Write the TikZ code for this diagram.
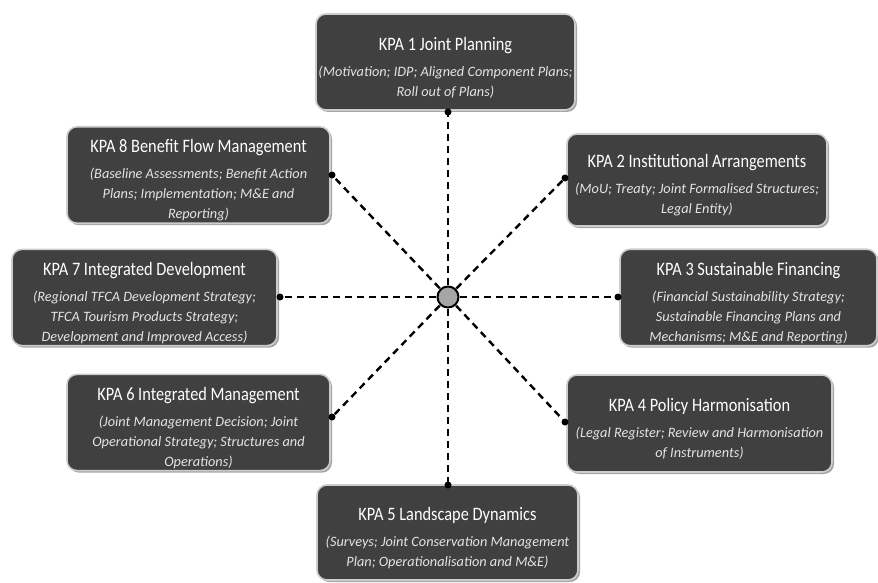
\documentclass[tikz,border=0pt]{standalone}
\usepackage{fontspec}
\setmainfont{Carlito}
\newfontfamily\kpatitlefont[FakeStretch=0.86]{Carlito}
\usetikzlibrary{shadows}
\definecolor{boxfill}{RGB}{64,64,64}
\definecolor{boxedge}{RGB}{205,205,205}
\definecolor{hubfill}{RGB}{165,165,165}
\definecolor{subtext}{RGB}{228,228,228}
\newcommand{\kpatitle}[1]{\rule{0pt}{24pt}{\kpatitlefont\fontsize{19}{20}\selectfont\upshape\color{white}#1}}
\newcommand{\kpasub}{\fontsize{14.3}{20}\selectfont\itshape}
\tikzset{
  kpa/.style={draw=boxedge, line width=1.6pt, fill=boxfill, rounded corners=10pt,
    align=center, inner sep=2pt, text=subtext, font=\kpasub,
    drop shadow={shadow xshift=2pt, shadow yshift=-2pt, opacity=0.35, fill=black}},
  link/.style={line width=2.4pt, dash pattern=on 7pt off 5pt, black},
  enddot/.style={circle, fill=black, inner sep=0pt, minimum size=7pt},
  hub/.style={circle, draw=black, line width=2pt, fill=hubfill, minimum size=21pt, inner sep=0pt}
}
\begin{document}
\begin{tikzpicture}[x=1pt,y=-1pt]
\useasboundingbox[fill=white] (0,0) rectangle (878,583);

\node[kpa, minimum width=259pt, minimum height=96pt] (k1) at (445.5,62)
  {\kpatitle{KPA 1 Joint Planning}\\[6pt](Motivation; IDP; Aligned Component Plans;\\Roll out of Plans)};
\node[kpa, minimum width=263pt, minimum height=96pt] (k8) at (198.5,175)
  {\kpatitle{KPA 8 Benefit Flow Management}\\[6pt](Baseline Assessments; Benefit Action\\Plans; Implementation; M\&E and\\Reporting)};
\node[kpa, minimum width=260pt, minimum height=92pt] (k2) at (697,180)
  {\kpatitle{KPA 2 Institutional Arrangements}\\[6pt](MoU; Treaty; Joint Formalised Structures;\\Legal Entity)};
\node[kpa, minimum width=265pt, minimum height=95pt] (k7) at (144.5,297.5)
  {\kpatitle{KPA 7 Integrated Development}\\[6pt](Regional TFCA Development Strategy;\\TFCA Tourism Products Strategy;\\Development and Improved Access)};
\node[kpa, minimum width=257pt, minimum height=95pt] (k3) at (748.5,297.5)
  {\kpatitle{KPA 3 Sustainable Financing}\\[6pt](Financial Sustainability Strategy;\\Sustainable Financing Plans and\\Mechanisms; M\&E and Reporting)};
\node[kpa, minimum width=263pt, minimum height=96pt] (k6) at (198.5,422.5)
  {\kpatitle{KPA 6 Integrated Management}\\[6pt](Joint Management Decision; Joint\\Operational Strategy; Structures and\\Operations)};
\node[kpa, minimum width=265pt, minimum height=97pt] (k4) at (699.5,423.5)
  {\kpatitle{KPA 4 Policy Harmonisation}\\[6pt](Legal Register; Review and Harmonisation\\of Instruments)};
\node[kpa, minimum width=261pt, minimum height=95pt] (k5) at (447.5,532.5)
  {\kpatitle{KPA 5 Landscape Dynamics}\\[6pt](Surveys; Joint Conservation Management\\Plan; Operationalisation and M\&E)};

\coordinate (c) at (448,297);
\coordinate (d1) at (448,112);
\coordinate (d2) at (565,178);
\coordinate (d3) at (618,297);
\coordinate (d4) at (565,422);
\coordinate (d5) at (448,485);
\coordinate (d6) at (332,417);
\coordinate (d7) at (280,297);
\coordinate (d8) at (332,175);

\foreach \d in {d1,d2,d3,d4,d5,d6,d7,d8}{
  \draw[link] (c) -- (\d);
  \node[enddot] at (\d) {};
}
\node[hub] (h) at (c) {};
\end{tikzpicture}
\end{document}
